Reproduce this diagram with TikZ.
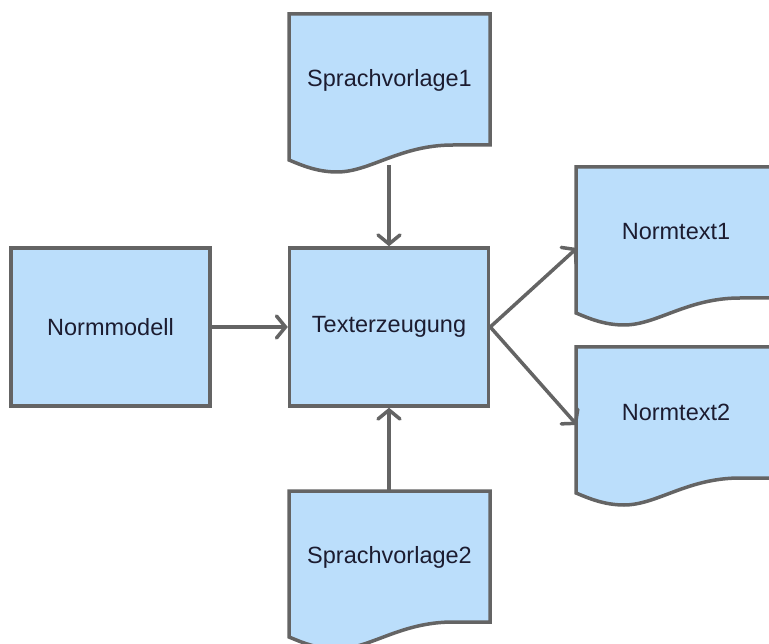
\documentclass[tikz,border=0pt]{standalone}
\usepackage{fontspec}
\setmainfont{Liberation Sans}
\usetikzlibrary{arrows.meta}
\definecolor{boxfill}{RGB}{187,222,251}
\definecolor{edgegray}{RGB}{100,100,100}
\definecolor{txt}{RGB}{28,28,48}
\tikzset{
  box/.style={draw=edgegray, fill=boxfill, line width=3.5pt, line join=miter},
  lbl/.style={font=\fontsize{23.5}{28}\selectfont, text=txt, inner sep=0pt},
  rectbox/.style={box, lbl, minimum width=199pt, minimum height=158pt},
  conn/.style={draw=edgegray, line width=3.5pt, -{Straight Barb[length=9pt,width=22pt,line cap=round]}},
}
\newcommand\docshape[2]{%
  \path[box, shift={(#1,#2)}] (0,0) -- (201,0) -- (201,131) -- (164,131)
    .. controls (111,131) and (81,158) .. (48,158)
    .. controls (28,158) and (12,151) .. (0,146) -- cycle;}
\begin{document}
\begin{tikzpicture}[x=1pt,y=-1pt]
  \useasboundingbox (0,0) rectangle (769,644);
  % document shapes
  \docshape{289}{14}
  \docshape{289}{491}
  \docshape{576}{167}
  \docshape{576}{347}
  % nodes
  \node[rectbox] (nm) at (110.5,327) {Normmodell};
  \node[rectbox] (tx) at (389,327) {Texterzeugung};
  \node[lbl] (sv1) at (389.5,80) {Sprachvorlage1};
  \node[lbl] (sv2) at (389.5,557) {Sprachvorlage2};
  \node[lbl] (nt1) at (676,232) {Normtext1};
  \node[lbl] (nt2) at (676,412) {Normtext2};
  % connector end points
  \coordinate (sv1b) at (389,165);
  \coordinate (sv2t) at (389,491);
  \coordinate (nt1in) at (577,248);
  \coordinate (nt2in) at (577,425);
  % connectors
  \draw[conn] (sv1b) -- (tx.north);
  \draw[conn] (sv2t) -- (tx.south);
  \draw[conn] (nm.east) -- (tx.west);
  \draw[conn] (tx.east) -- (nt1in);
  \draw[conn] (tx.east) -- (nt2in);
\end{tikzpicture}
\end{document}
